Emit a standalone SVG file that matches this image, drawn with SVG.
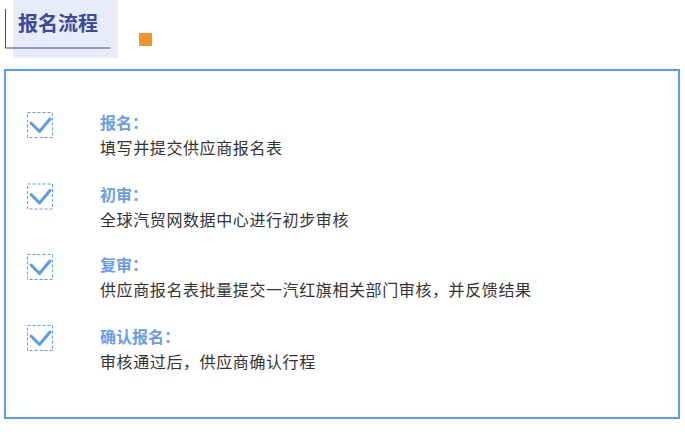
<svg xmlns="http://www.w3.org/2000/svg" width="685" height="436" viewBox="0 0 685 436">
<style>
.title{font-family:"Noto Sans CJK SC","Noto Sans",sans-serif;font-size:20px;font-weight:bold;fill:#3b4b9c}
.lbl{font-family:"Noto Sans CJK SC","Noto Sans",sans-serif;font-size:16px;font-weight:bold;fill:#6a9cec}
.desc{font-family:"Noto Sans CJK SC","Noto Sans",sans-serif;font-size:16px;fill:#333333;letter-spacing:0.6px}
.box{fill:none;stroke:#5b9cf0;stroke-width:1;stroke-dasharray:3 2}
.chk{fill:none;stroke:#5b9cf0;stroke-width:3;stroke-linecap:round;stroke-linejoin:round}
</style>
<defs>
<g id="check">
<rect class="box" x="27.5" y="0.5" width="25" height="25"/>
<path class="chk" d="M31 11 L39.5 19.5 L50 7"/>
</g>
</defs>
<rect width="685" height="436" fill="#ffffff"/>
<g id="header">
<rect x="13" y="0" width="105" height="58" fill="#e8ecf8"/>
<path d="M5.5 9 V48 H110" fill="none" stroke="#3b4b9c" stroke-width="1"/>
<text class="title" x="18" y="31">报名流程</text>
<rect x="139" y="33" width="13" height="13" fill="#f0952e"/>
</g>
<rect id="frame" x="5" y="70" width="674" height="348" fill="none" stroke="#5b9cf0" stroke-width="2"/>
<g id="connectors"/>
<g id="step1">
<use href="#check" y="112"/>
<text class="lbl" x="100" y="129">报名：</text>
<text class="desc" x="100" y="154">填写并提交供应商报名表</text>
</g>
<g id="step2">
<use href="#check" y="183.5"/>
<text class="lbl" x="100" y="201">初审：</text>
<text class="desc" x="100" y="226">全球汽贸网数据中心进行初步审核</text>
</g>
<g id="step3">
<use href="#check" y="254"/>
<text class="lbl" x="100" y="271">复审：</text>
<text class="desc" x="100" y="296">供应商报名表批量提交一汽红旗相关部门审核，并反馈结果</text>
</g>
<g id="step4">
<use href="#check" y="325"/>
<text class="lbl" x="100" y="343">确认报名：</text>
<text class="desc" x="100" y="368">审核通过后，供应商确认行程</text>
</g>
</svg>
